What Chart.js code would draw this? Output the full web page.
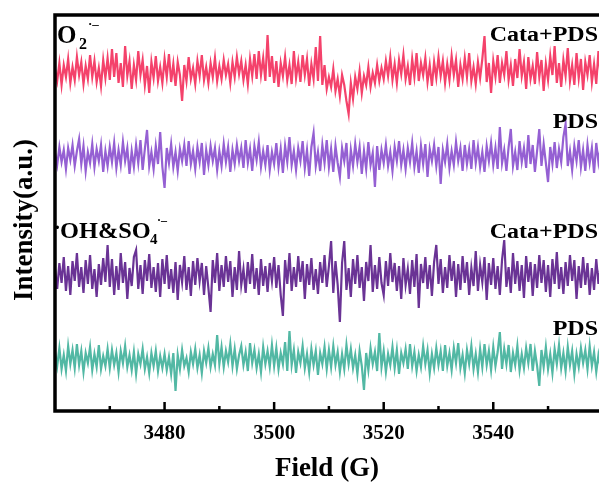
<!DOCTYPE html>
<html><head><meta charset="utf-8">
<script src="https://cdn.jsdelivr.net/npm/chart.js@4"></script>
<style>html,body{margin:0;padding:0;background:#fff}#wrap{width:599px;height:485px}</style>
</head><body><div id="wrap"><canvas id="c" width="599" height="485"></canvas></div>
<script>
// Field sweep (G)
const fieldStart = 3460, fieldStep = 0.4;
const majorTicks = [3480, 3500, 3520, 3540];
const minorTicks = [3470, 3490, 3510, 3530, 3550];
const seriesNames = ['Cata+PDS (O2)', 'PDS (O2)', 'Cata+PDS (OH&SO4)', 'PDS (OH&SO4)'];
const traceOffsets = [340, 254, 136, 51];

// Intensity deviations (a.u.)
const o2CataPDS = [
 2,-10,8,-14,6,-6,12,-12,4,-9,14,-4,9,-13,5,-8,16,-6,10,-11,3,-15,11,-7,13,
 -9,22,-6,18,-12,8,-16,25,-5,10,-18,6,-9,20,-4,11,-14,5,-22,9,-7,15,-10,4,-12,
 12,-6,17,-11,7,-15,9,-4,-30,6,-10,14,-8,3,-13,10,-5,16,-9,4,-12,8,-6,13,-10,
 5,-8,11,-4,7,-12,9,-6,14,-3,10,-9,6,-13,12,-5,17,-8,20,-4,13,-10,36,-6,15,
 -12,10,-16,8,-5,14,-9,6,-13,20,-7,9,-11,16,-4,12,-15,7,-8,24,-10,35,-14,6,-18,
 -6,-16,2,-20,-8,-25,-4,-14,-30,-43,-12,-28,-6,-18,0,-22,-5,-14,4,-16,-2,-12,6,-10,3,
 -8,10,-5,14,-9,7,-12,11,-3,16,-8,5,-14,12,-6,18,-10,8,-4,13,-11,6,-15,9,-7,
 14,-5,10,-12,7,-9,15,-4,11,-16,6,-8,13,-6,18,-10,4,-13,9,-7,12,35,-11,8,-22,
 10,-6,16,-12,8,-4,20,-9,6,-15,12,-7,22,-5,9,-18,14,-8,5,-13,19,-6,11,-20,7,
 -9,15,-4,25,-12,8,-16,11,-5,23,-10,6,-14,18,-7,12,-19,9,-4,16,-11,7,-13,20,-6
];
const o2PDS = [
 4,-8,10,-5,7,-12,9,-3,12,-9,6,18,-7,11,-14,5,-6,13,-10,8,-4,12,-15,6,-9,
 10,-5,14,-11,7,-8,15,-4,9,-17,6,-10,12,-6,17,-13,8,27,-9,5,-12,11,-7,25,-10,
 -31,9,-6,13,-10,5,-14,8,-4,12,-9,16,-7,6,-12,10,-5,14,-18,7,-8,11,-4,9,-13,
 6,-9,13,-5,10,-15,7,-7,12,-4,9,-11,17,-6,8,-14,11,-3,15,-10,6,-8,12,-13,5,
 -7,14,-10,8,-16,11,-5,20,-8,6,-13,9,-4,16,-11,7,-19,10,24,-9,5,-14,12,-6,17,
 -10,8,-15,11,-6,-20,9,-4,14,-22,7,-9,13,-5,10,-17,6,-12,15,-8,4,-30,11,-13,7,
 -6,12,-9,5,-14,10,-4,16,-8,7,-12,9,-5,14,-10,6,-16,11,-7,13,-20,8,-4,12,-9,
 10,-27,7,-5,13,-11,6,-8,15,-4,9,-14,12,-7,8,-12,17,-6,10,-10,5,-15,11,-4,14,
 -8,9,-12,30,-6,7,-14,10,28,-9,5,-13,16,-5,9,-11,22,-7,12,-15,6,28,-9,13,-6,
 -25,10,-7,15,-11,8,-5,20,33,-9,6,-13,11,-4,17,-10,7,-14,12,-6,9,-16,14,-5,10
];
const ohCataPDS = [
 6,-14,12,-8,18,-16,9,-20,14,-6,22,-12,8,-18,15,-9,20,-14,6,-22,11,-10,17,-7,30,
 -12,16,-20,9,-15,22,-8,13,-24,7,-11,18,25,-14,10,-19,15,-6,21,-13,8,-17,12,-22,16,
 -9,20,-14,6,-18,13,-25,10,-7,19,-15,8,-21,14,-10,17,-6,12,-20,9,-13,-37,15,-8,22,
 -16,10,-12,19,-7,14,-22,8,-15,24,-10,6,-18,13,-9,21,-14,7,-20,16,-11,9,-17,12,-6,
 18,-13,10,-20,-41,15,-9,22,-16,8,-12,19,-7,14,-24,11,-10,17,-15,6,-19,13,-8,20,-12,
 9,34,-18,14,-10,-47,12,34,-15,7,-22,16,-9,20,-13,8,-26,13,-6,30,-17,10,-14,18,-8,
 -20,14,-11,22,-7,12,-16,9,-24,17,-10,6,-19,15,-12,21,-33,11,-8,18,-14,10,-21,13,30,
 -9,16,-18,8,-13,20,-6,14,-22,11,-15,19,-8,13,-20,7,-11,24,-16,10,-7,18,-25,12,-10,
 17,-14,9,-20,15,35,-12,8,-18,22,-9,14,-16,10,-23,19,-7,13,-21,11,-13,20,-8,15,-17,
 10,-22,16,-9,23,-14,8,-19,13,-11,20,-6,15,-24,9,-13,18,-10,12,-20,7,-15,16,-9,11
];
const ohPDS = [
 8,-6,12,-9,5,-11,14,-4,10,-8,16,-5,9,-12,7,-3,13,-10,6,-7,15,-9,4,-6,11,
 -8,10,-5,7,-12,9,-3,14,-7,5,-10,8,-14,6,-4,11,-9,3,-13,7,-6,9,-11,4,-8,
 6,-10,3,-14,7,-31,5,-9,10,-6,2,-12,8,-4,11,-8,5,-13,9,-3,12,-7,6,-5,25,
 -4,13,-7,9,-2,16,-6,11,-9,5,14,-5,8,-11,17,-3,10,-8,6,-12,13,-4,9,-7,15,
 -6,12,-9,7,-4,18,-11,29,-5,10,-13,8,-3,14,-8,6,-12,11,-5,9,-15,7,-4,13,-9,
 10,-7,14,-5,8,-12,6,-9,15,-4,11,-8,5,-14,9,-6,-30,7,-10,12,-4,8,-11,27,-7,
 9,-12,6,-5,13,-8,10,-14,7,-3,11,-9,16,-6,8,-11,5,-7,14,-4,10,-13,6,-8,12,
 -5,9,-11,15,-6,7,-10,12,-3,17,-8,5,-13,10,-4,14,-9,6,-12,11,-7,16,-5,9,-10,
 13,-6,8,28,-9,11,-4,15,-12,7,-5,14,-10,6,-8,12,-3,16,-11,9,-6,-26,10,-7,13,
 -9,6,-13,11,-4,15,-8,7,-11,13,-5,9,-14,6,-7,12,-3,10,-9,14,-6,8,-12,5,-8
];
const seriesValues = [o2CataPDS, o2PDS, ohCataPDS, ohPDS];
const colors = ['#f4426b', '#9560d3', '#6a3395', '#52b8a4'];

const datasets = seriesValues.map((vals, k) => ({
  label: seriesNames[k],
  data: vals.map((v, i) => ({x: fieldStart + i * fieldStep, y: traceOffsets[k] + v})),
  borderColor: colors[k],
  borderWidth: 2.2,
  borderJoinStyle: 'miter',
  pointRadius: 0,
  tension: 0,
  fill: false
}));

const SERIF = '"Liberation Serif","Times New Roman",serif';

function stretchText(ctx, text, x, y, sx, align) {
  ctx.save();
  ctx.translate(x, y);
  ctx.scale(sx, 1);
  ctx.textAlign = align || 'left';
  ctx.fillText(text, 0, 0);
  ctx.restore();
}

const decor = {
  id: 'decor',
  afterDatasetsDraw(chart) {
    const {ctx, chartArea: a, scales: {x}} = chart;
    ctx.save();
    ctx.strokeStyle = '#000';
    ctx.lineWidth = 3.5;
    ctx.lineCap = 'square';
    ctx.beginPath();
    ctx.moveTo(a.left, a.bottom); ctx.lineTo(a.left, a.top); ctx.lineTo(a.right + 3, a.top);
    ctx.moveTo(a.left, a.bottom); ctx.lineTo(a.right + 3, a.bottom);
    ctx.stroke();
    ctx.lineCap = 'butt';
    ctx.lineWidth = 2.5;
    ctx.beginPath();
    majorTicks.forEach(v => { const p = x.getPixelForValue(v); ctx.moveTo(p, a.bottom); ctx.lineTo(p, a.bottom - 9); });
    minorTicks.forEach(v => { const p = x.getPixelForValue(v); ctx.moveTo(p, a.bottom); ctx.lineTo(p, a.bottom - 5); });
    ctx.stroke();

    ctx.fillStyle = '#000';
    ctx.textBaseline = 'alphabetic';
    // right-hand labels
    ctx.font = 'bold 20px ' + SERIF;
    stretchText(ctx, 'Cata+PDS', 598, 41, 1.2, 'right');
    stretchText(ctx, 'PDS', 598, 128, 1.2, 'right');
    stretchText(ctx, 'Cata+PDS', 598, 238, 1.2, 'right');
    stretchText(ctx, 'PDS', 598, 335, 1.2, 'right');
    // O2 radical label
    ctx.font = 'bold 25px ' + SERIF;
    stretchText(ctx, 'O', 57, 43, 1.0);
    ctx.font = 'bold 16px ' + SERIF;
    stretchText(ctx, '2', 79, 49, 1.0);
    ctx.font = 'bold 13px ' + SERIF;
    stretchText(ctx, '·–', 88, 28, 1.0);
    // OH & SO4 label
    ctx.font = 'bold 20px ' + SERIF;
    stretchText(ctx, '·', 54, 234, 1.0);
    ctx.font = 'bold 23px ' + SERIF;
    stretchText(ctx, 'OH&SO', 60, 238, 1.06);
    ctx.font = 'bold 15px ' + SERIF;
    stretchText(ctx, '4', 150, 244, 1.0);
    ctx.font = 'bold 12px ' + SERIF;
    stretchText(ctx, '·–', 157, 224, 1.0);
    // y title
    ctx.save();
    ctx.translate(25, 220);
    ctx.rotate(-Math.PI / 2);
    ctx.textAlign = 'center';
    ctx.textBaseline = 'middle';
    ctx.font = 'bold 27px ' + SERIF;
    ctx.fillText('Intensity(a.u.)', 0, 0);
    ctx.restore();
    ctx.restore();
  }
};

new Chart(document.getElementById('c'), {
  type: 'line',
  data: {datasets},
  options: {
    responsive: false,
    animation: false,
    events: [],
    layout: {padding: {left: 55, top: 15, right: 0, bottom: 0}},
    plugins: {legend: {display: false}, tooltip: {enabled: false}},
    scales: {
      x: {
        type: 'linear',
        min: 3460, max: 3559.3,
        grid: {display: false, drawTicks: false},
        border: {display: false},
        afterFit: s => { s.height = 74; },
        ticks: {
          stepSize: 10, includeBounds: false, autoSkip: false, maxRotation: 0, padding: 10,
          color: '#000',
          font: {family: SERIF, size: 21, weight: 'bold'},
          callback: v => majorTicks.includes(v) ? String(v) : ''
        },
        title: {
          display: true, text: 'Field (G)', color: '#000',
          font: {family: SERIF, size: 27, weight: 'bold'},
          padding: {top: 0, bottom: 0}
        }
      },
      y: {display: false, min: 0, max: 396}
    }
  },
  plugins: [decor]
});
</script></body></html>
